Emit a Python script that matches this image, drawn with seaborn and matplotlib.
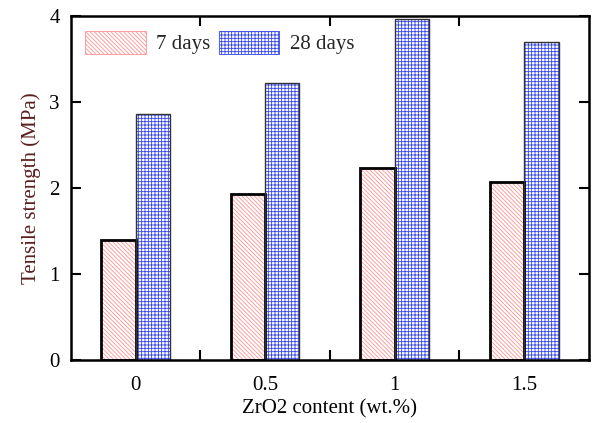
import matplotlib
matplotlib.use("Agg")
import matplotlib.pyplot as plt
from matplotlib.patches import Patch, Rectangle
from matplotlib.ticker import FixedLocator
import seaborn as sns
import pandas as pd

# ZrO2 dosage and tensile strength after each curing age
contents = ["0", "0.5", "1", "1.5"]
strength_7d = [1.39, 1.93, 2.23, 2.07]
strength_28d = [2.86, 3.23, 3.97, 3.70]
ages = ["7 days", "28 days"]
yticks = [0, 1, 2, 3, 4]

df = pd.DataFrame({
    "content": contents * 2,
    "age": [ages[0]] * len(contents) + [ages[1]] * len(contents),
    "strength": strength_7d + strength_28d,
})

sns.set_theme(style="white")
plt.rcParams["font.family"] = ["Liberation Serif", "DejaVu Serif"]
plt.rcParams["hatch.linewidth"] = 0.6

fig = plt.figure(figsize=(5.95, 4.23), dpi=100)
ax = fig.add_axes([0.119, 0.150, 0.871, 0.811])

sns.barplot(data=df, x="content", y="strength", hue="age", order=contents,
            hue_order=ages, palette=["white", "white"], width=0.53,
            errorbar=None, legend=False, ax=ax, saturation=1)

styles = {
    ages[0]: dict(hatch="\\" * 8, color="#ff9090", edge="black", lw=2.0),
    ages[1]: dict(hatch="+" * 5, color="#3344ee", edge="#333333", lw=1.0),
}
bars = list(ax.patches)
n = len(contents)
for i, bar in enumerate(bars):
    st = styles[ages[i // n]]
    bar.set_facecolor("white")
    bar.set_edgecolor(st["color"])
    bar.set_hatch(st["hatch"])
    bar.set_linewidth(0)
    ax.add_patch(Rectangle(bar.get_xy(), bar.get_width(), bar.get_height(),
                           fill=False, edgecolor=st["edge"],
                           linewidth=st["lw"], zorder=bar.get_zorder() + 0.1))

ax.set_xlim(-0.5, len(contents) - 0.5)
ax.set_ylim(0, 4)
ax.set_yticks(yticks)
ax.set_yticklabels([str(t) for t in yticks])
ax.xaxis.set_minor_locator(FixedLocator([0.5, 1.5, 2.5]))

for side in ["left", "right", "top", "bottom"]:
    ax.spines[side].set_visible(True)
    ax.spines[side].set_color("black")
    ax.spines[side].set_linewidth(1.8)

ax.tick_params(axis="x", which="major", length=0, pad=12, labelsize=15,
               colors="black")
ax.tick_params(axis="x", which="minor", direction="in", length=7, width=1.5,
               top=True, bottom=True, color="black")
ax.tick_params(axis="y", which="major", direction="in", length=7, width=1.5,
               left=True, right=True, labelsize=15, pad=8, colors="black")

ax.set_xlabel("ZrO2 content (wt.%)", fontsize=15, color="black", labelpad=3)
ax.set_ylabel("Tensile strength (MPa)", fontsize=15, color="#5c1e1e",
              labelpad=6)

handles = [
    Patch(facecolor="white", edgecolor=styles[a]["color"],
          hatch=styles[a]["hatch"], linewidth=0.6)
    for a in ages
]
ax.legend(handles, ages, loc="upper left", ncol=2, frameon=False,
          fontsize=15, handlelength=2.9, handleheight=1.3,
          handletextpad=0.5, columnspacing=0.4,
          bbox_to_anchor=(0.0, 1.0), borderaxespad=0.3)

fig.savefig("out.png", dpi=100, facecolor="white")
